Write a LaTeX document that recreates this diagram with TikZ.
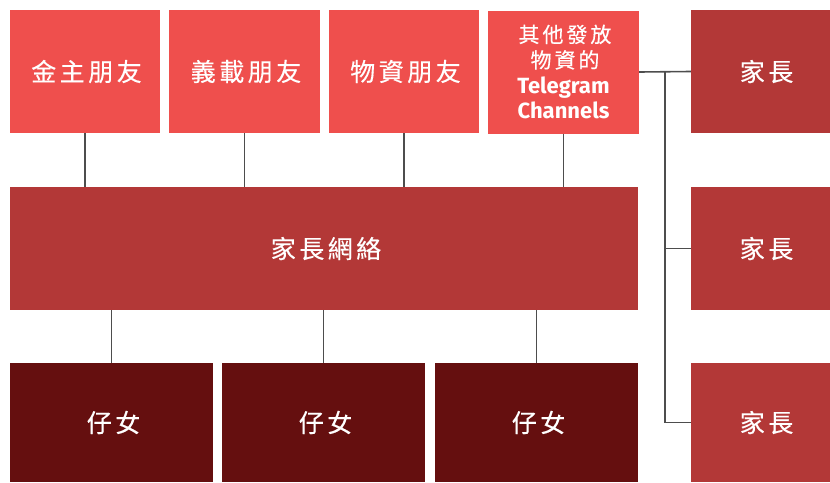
\documentclass[tikz,border=0pt]{standalone}
\usepackage{fontspec}
\setmainfont{Noto Sans}
\newfontfamily\cjk[LetterSpace=14,FakeBold=0.4]{Noto Sans CJK TC}
\newfontfamily\latin{Fira Sans}
\usetikzlibrary{calc}
\definecolor{lightred}{HTML}{EF4F4D}
\definecolor{midred}{HTML}{B33837}
\definecolor{darkred}{HTML}{650F0F}
\definecolor{wire}{HTML}{4D4D4D}
\tikzset{
  box/.style={inner sep=0pt, text=white, minimum height=123pt, align=center,
    font=\cjk\fontsize{25}{28}\selectfont},
  friend/.style={box, fill=lightred, minimum width=150pt},
  parent/.style={box, fill=midred, minimum width=139pt},
  child/.style={box, fill=darkred, minimum width=203pt, minimum height=119pt},
  link/.style={draw=wire, line width=1.6pt},
}

\begin{document}
\begin{tikzpicture}[x=1pt,y=-1pt]
  \useasboundingbox (0,0) rectangle (830,482);
  % top row
  \node[friend] (f1) at (85,71.5) {\hspace*{3pt}金主朋友};
  \node[friend, minimum width=151pt] (f2) at (244.5,71.5) {\hspace*{3pt}義載朋友};
  \node[friend] (f3) at (404,71.5) {\hspace*{3pt}物資朋友};
  \node[friend, minimum width=151pt, font=\cjk\fontsize{21}{25.5}\selectfont] (tg) at (563.5,72)
    {\hspace*{3pt}其他發放\\\hspace*{3pt}物資的\\{\latin\bfseries\fontsize{22}{25.5}\selectfont Telegram}\\{\latin\bfseries\fontsize{22}{25.5}\selectfont Channels}};
  % network and children
  \node[box, fill=midred, minimum width=628pt] (net) at (324,248.5) {\hspace*{4pt}家長網絡};
  \node[child] (c1) at (111.5,422.5) {\hspace*{4pt}仔女};
  \node[child] (c2) at (323.5,422.5) {\hspace*{4pt}仔女};
  \node[child] (c3) at (536.5,422.5) {\hspace*{4pt}仔女};
  % parents on the right
  \node[parent] (p1) at (760.5,71.5) {\hspace*{12pt}家長};
  \node[parent] (p2) at (760.5,248.5) {\hspace*{12pt}家長};
  \node[parent, minimum height=119pt] (p3) at (760.5,422.5) {\hspace*{12pt}家長};

  \foreach \n in {f1,f2,f3,tg} \draw[link] (\n.south) -- (\n.south |- net.north);
  \foreach \n in {c1,c2,c3} \draw[link] (\n.north |- net.south) -- (\n.north);
  \coordinate (bus) at ($(tg.east)!0.5!(p1.west)$);
  \draw[link] (tg.east) -- (p1.west);
  \draw[link] (bus) |- (p3.west);
  \draw[link] (bus |- p2.west) -- (p2.west);
\end{tikzpicture}
\end{document}
